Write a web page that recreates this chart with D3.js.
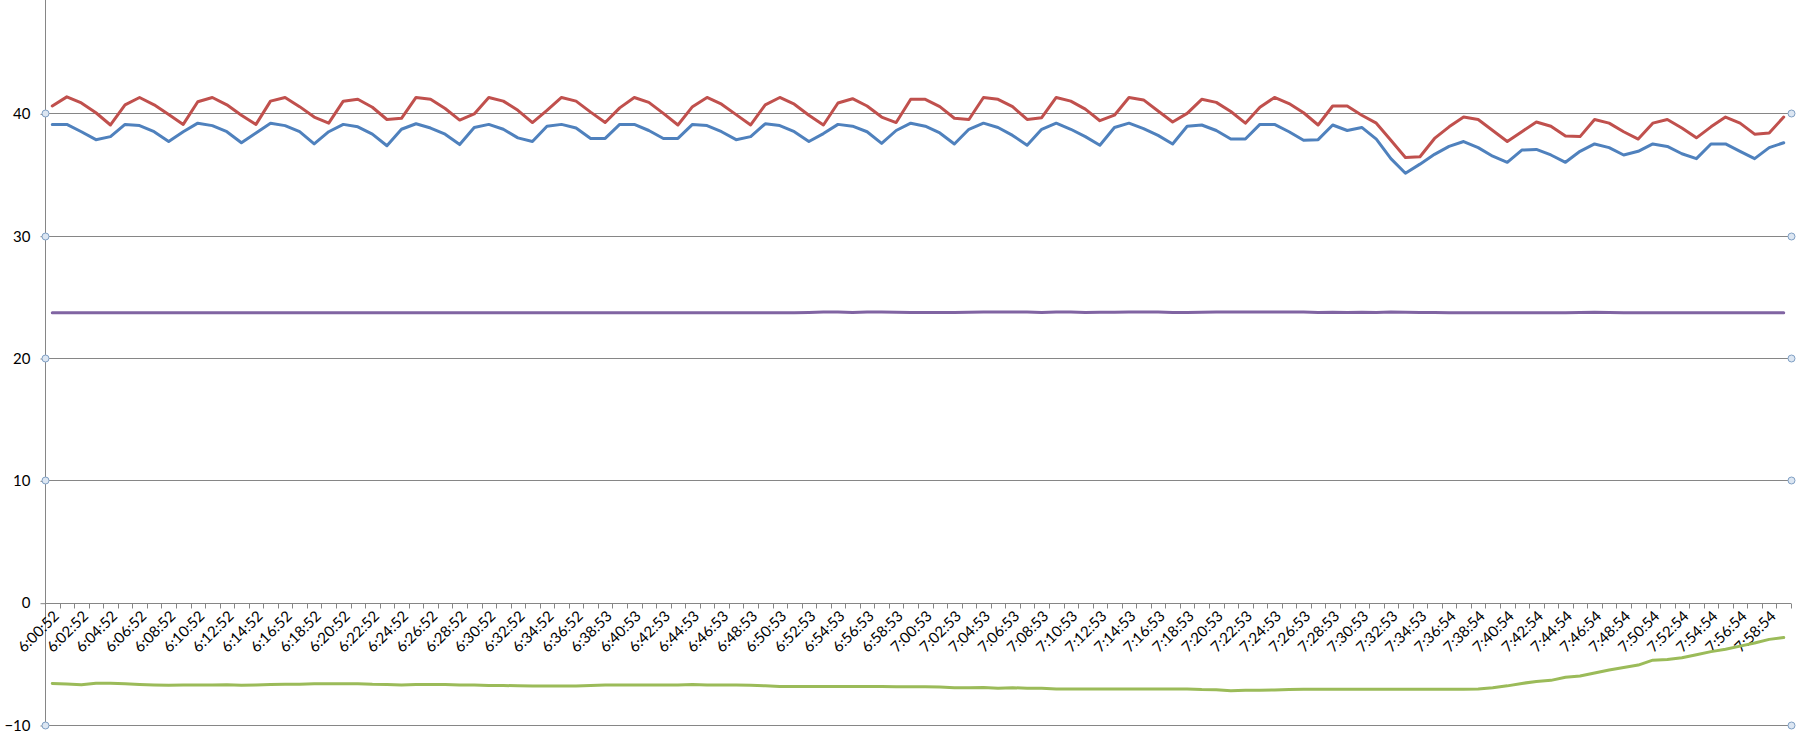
<!DOCTYPE html>
<html><head><meta charset="utf-8">
<script src="https://cdn.jsdelivr.net/npm/d3@7"></script>
<style>html,body{margin:0;padding:0;background:#fff;overflow:hidden}svg{display:block}text{font-family:Lato,"Open Sans",sans-serif}</style>
</head><body>
<svg id="chart" width="1803" height="735"></svg>
<script>
const tickLabels = ["6:00:52","6:02:52","6:04:52","6:06:52","6:08:52","6:10:52","6:12:52","6:14:52","6:16:52","6:18:52","6:20:52","6:22:52","6:24:52","6:26:52","6:28:52","6:30:52","6:32:52","6:34:52","6:36:52","6:38:53","6:40:53","6:42:53","6:44:53","6:46:53","6:48:53","6:50:53","6:52:53","6:54:53","6:56:53","6:58:53","7:00:53","7:02:53","7:04:53","7:06:53","7:08:53","7:10:53","7:12:53","7:14:53","7:16:53","7:18:53","7:20:53","7:22:53","7:24:53","7:26:53","7:28:53","7:30:53","7:32:53","7:34:53","7:36:54","7:38:54","7:40:54","7:42:54","7:44:54","7:46:54","7:48:54","7:50:54","7:52:54","7:54:54","7:56:54","7:58:54"];

const redSeries = [40.6,41.35,40.85,40.05,39.05,40.7,41.3,40.7,39.9,39.1,
40.95,41.3,40.7,39.85,39.1,41.0,41.3,40.55,39.7,39.2,
41.0,41.15,40.5,39.5,39.6,41.3,41.15,40.4,39.45,39.95,
41.3,41.0,40.25,39.25,40.25,41.3,41.0,40.1,39.25,40.45,
41.3,40.9,40.0,39.05,40.55,41.3,40.75,39.9,39.05,40.7,
41.3,40.75,39.85,39.05,40.85,41.2,40.6,39.7,39.25,41.15,
41.15,40.55,39.6,39.5,41.3,41.15,40.55,39.5,39.65,41.3,
41.0,40.35,39.4,39.85,41.3,41.1,40.2,39.3,40.0,41.15,
40.9,40.15,39.2,40.5,41.3,40.8,40.05,39.05,40.6,40.6,
39.85,39.2,37.8,36.4,36.45,37.95,38.9,39.7,39.5,38.6,
37.7,38.5,39.3,38.95,38.15,38.1,39.5,39.2,38.5,37.9,
39.2,39.5,38.8,38.0,38.9,39.7,39.2,38.3,38.4,39.7];

const blueSeries = [39.1,39.1,38.5,37.85,38.1,39.1,39.0,38.5,37.7,38.5,
39.2,39.0,38.5,37.6,38.4,39.2,39.0,38.5,37.5,38.5,
39.1,38.9,38.3,37.35,38.7,39.15,38.8,38.3,37.45,38.85,
39.1,38.7,38.0,37.7,38.95,39.1,38.8,37.95,37.95,39.1,
39.1,38.6,37.95,37.95,39.1,39.0,38.5,37.85,38.1,39.15,
39.0,38.5,37.7,38.35,39.1,38.95,38.5,37.55,38.6,39.2,
38.95,38.4,37.5,38.7,39.2,38.85,38.2,37.4,38.7,39.2,
38.7,38.1,37.4,38.85,39.2,38.75,38.2,37.5,38.95,39.05,
38.6,37.9,37.9,39.1,39.1,38.5,37.8,37.85,39.05,38.6,
38.85,37.9,36.3,35.1,35.85,36.65,37.3,37.7,37.2,36.5,
36.0,37.0,37.05,36.6,36.0,36.9,37.5,37.2,36.6,36.9,
37.5,37.3,36.7,36.3,37.5,37.5,36.9,36.3,37.2,37.6];

const purpleSeries = [23.7,23.7,23.7,23.7,23.7,23.7,23.7,23.7,23.7,23.7,
23.7,23.7,23.7,23.7,23.7,23.7,23.7,23.7,23.7,23.7,
23.7,23.7,23.7,23.7,23.7,23.7,23.7,23.7,23.7,23.7,
23.7,23.7,23.7,23.7,23.7,23.7,23.7,23.7,23.7,23.7,
23.7,23.7,23.7,23.7,23.7,23.7,23.7,23.7,23.7,23.7,
23.7,23.7,23.72,23.76,23.76,23.72,23.76,23.76,23.74,23.72,
23.72,23.72,23.72,23.74,23.76,23.76,23.76,23.76,23.72,23.76,
23.76,23.72,23.74,23.74,23.76,23.76,23.76,23.72,23.72,23.74,
23.76,23.76,23.76,23.76,23.76,23.76,23.76,23.72,23.74,23.72,
23.74,23.72,23.76,23.74,23.72,23.72,23.7,23.7,23.7,23.7,
23.7,23.7,23.7,23.7,23.7,23.72,23.74,23.72,23.7,23.7,
23.7,23.7,23.7,23.7,23.7,23.7,23.7,23.7,23.7,23.7];

const greenSeries = [-6.6,-6.65,-6.7,-6.58,-6.58,-6.62,-6.68,-6.72,-6.75,-6.74,
-6.74,-6.74,-6.7,-6.75,-6.72,-6.68,-6.66,-6.66,-6.63,-6.62,
-6.62,-6.62,-6.67,-6.68,-6.72,-6.68,-6.68,-6.68,-6.74,-6.72,
-6.77,-6.77,-6.8,-6.82,-6.82,-6.82,-6.82,-6.77,-6.74,-6.72,
-6.72,-6.72,-6.72,-6.72,-6.68,-6.72,-6.72,-6.72,-6.75,-6.8,
-6.85,-6.85,-6.85,-6.85,-6.85,-6.85,-6.85,-6.86,-6.87,-6.88,
-6.88,-6.9,-6.95,-6.95,-6.93,-7.0,-6.95,-7.0,-7.0,-7.05,
-7.05,-7.05,-7.05,-7.05,-7.05,-7.05,-7.05,-7.05,-7.05,-7.1,
-7.12,-7.2,-7.15,-7.15,-7.13,-7.1,-7.08,-7.08,-7.08,-7.08,
-7.08,-7.08,-7.08,-7.08,-7.08,-7.08,-7.08,-7.08,-7.05,-6.95,
-6.8,-6.6,-6.45,-6.35,-6.1,-6.0,-5.75,-5.5,-5.3,-5.1,
-4.7,-4.65,-4.5,-4.25,-4.0,-3.8,-3.55,-3.3,-3.0,-2.85];

const yTicks = [-10,0,10,20,30,40];
const gridValues = [-10,10,20,30,40];

const svg = d3.select("#chart");
const left = 45, right = 1791;
const n = redSeries.length;
const x = d3.scaleBand().domain(d3.range(n)).range([left, right]).padding(0);
const y = d3.scaleLinear().domain([-10, 50]).range([725, -8.95]);
const gridColor = "#868686";

// gridlines
svg.append("g").selectAll("line").data(gridValues).join("line")
  .attr("x1", left).attr("x2", right)
  .attr("y1", d => Math.round(y(d)) + 0.5).attr("y2", d => Math.round(y(d)) + 0.5)
  .attr("stroke", gridColor).attr("stroke-width", 1);

// y axis
const yAxis = d3.axisLeft(y).tickValues(yTicks).tickSize(5).tickPadding(10).tickFormat(d3.format("d"));
const gy = svg.append("g").attr("transform", `translate(${left + 0.5},0.5)`).call(yAxis);
gy.select(".domain").attr("stroke", gridColor).attr("d", `M0,${y(50)}V${y(-10)}`);
gy.selectAll(".tick line").attr("stroke", gridColor);
gy.selectAll(".tick text").attr("font-size", 15).attr("fill", "#000").attr("font-family", "Lato");

// x axis at 0
const xAxis = d3.axisBottom(x).tickSize(0).tickFormat("");
const gx = svg.append("g").attr("transform", `translate(0,${Math.round(y(0)) + 0.5})`).call(xAxis);
gx.select(".domain").attr("stroke", gridColor).attr("d", `M${left},0H${right}`);
gx.selectAll(".tick").remove();
// boundary tick marks
gx.selectAll("line.bt").data(d3.range(n + 1)).join("line").attr("class", "bt")
  .attr("x1", i => Math.round(left + i * x.bandwidth()) + 0.5)
  .attr("x2", i => Math.round(left + i * x.bandwidth()) + 0.5)
  .attr("y1", 0).attr("y2", 5).attr("stroke", gridColor);
// labels every 2 categories
gx.selectAll("text.lbl").data(tickLabels).join("text").attr("class", "lbl")
  .attr("transform", (d, k) => `translate(${x(k * 2) + x.bandwidth() / 2 + 4},10) rotate(-45)`)
  .attr("text-anchor", "end").attr("dy", "0.35em")
  .attr("font-size", 15).attr("fill", "#000").text(d => d);

// series lines
const line = d3.line().x((d, i) => x(i) + x.bandwidth() / 2).y(d => y(d));
const series = [
  {data: greenSeries, color: "#9BBB59"},
  {data: purpleSeries, color: "#8064A2"},
  {data: blueSeries, color: "#4F81BD"},
  {data: redSeries, color: "#C0504D"}
];
svg.append("g").selectAll("path").data(series).join("path")
  .attr("d", s => line(s.data)).attr("fill", "none")
  .attr("stroke", s => s.color).attr("stroke-width", 3)
  .attr("stroke-linejoin", "round").attr("stroke-linecap", "round");

// gridline end handles
const handles = [];
gridValues.forEach(v => { handles.push([left, v]); handles.push([right, v]); });
svg.append("g").selectAll("circle").data(handles).join("circle")
  .attr("cx", d => d[0] + 0.5).attr("cy", d => Math.round(y(d[1])) + 0.5).attr("r", 3.5)
  .attr("fill", "#dce6f2").attr("stroke", "#7f9fc4").attr("stroke-width", 1);
</script>
</body></html>
